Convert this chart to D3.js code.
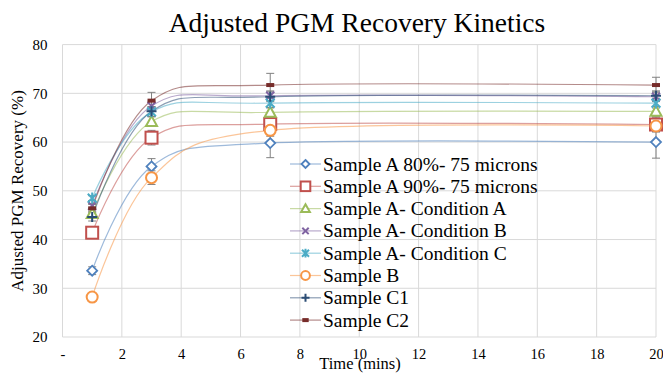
<!DOCTYPE html>
<html lang="en">
<head>
    <meta charset="utf-8">
    <script src='https://d3js.org/d3.v7.min.js'></script>
    <style>
        body { margin: 0; background: #fff; }
        svg text { font-family: "Liberation Serif", "DejaVu Serif", serif; fill: #000; }
    </style>
</head>
<body>
<script>
    var width = 663, height = 373;
    var serif = '"Liberation Serif", "DejaVu Serif", serif';

    // data
    var times = [1, 3, 7, 20];
    var seriesNames = ['Sample A 80%- 75 microns', 'Sample A 90%- 75 microns', 'Sample A- Condition A',
        'Sample A- Condition B', 'Sample A- Condition C', 'Sample B', 'Sample C1', 'Sample C2'];
    var sampleA80 = [33.6, 55.0, 59.8, 60.0];
    var sampleA90 = [41.4, 60.9, 63.7, 63.6];
    var conditionA = [45.3, 64.2, 66.1, 66.3];
    var conditionB = [46.9, 67.4, 69.5, 69.3];
    var conditionC = [48.5, 66.2, 68.0, 68.0];
    var sampleB = [28.2, 52.7, 62.4, 63.3];
    var sampleC1 = [44.6, 66.3, 69.3, 69.5];
    var sampleC2 = [46.4, 68.5, 71.7, 71.7];
    var errors = [
        [0.8, 1.6, 3.0, 3.3],
        [0.8, 1.5, 1.5, 1.5],
        [0.5, 1.0, 1.0, 1.0],
        [0.5, 1.0, 1.0, 1.0],
        [0.5, 1.0, 1.0, 1.0],
        [0.6, 1.4, 1.2, 1.2],
        [0.8, 1.0, 1.0, 1.0],
        [0.8, 1.7, 2.4, 1.6]
    ];
    var xTicks = [0, 2, 4, 6, 8, 10, 12, 14, 16, 18, 20];
    var yTicks = [20, 30, 40, 50, 60, 70, 80];

    var colors = ['#4f81bd', '#c0504d', '#9bbb59', '#8064a2', '#4bacc6', '#f79646', '#2c4d75', '#772c2a'];
    var markers = ['diamond', 'square', 'triangle', 'x', 'asterisk', 'circle', 'plus', 'dash'];
    var values = [sampleA80, sampleA90, conditionA, conditionB, conditionC, sampleB, sampleC1, sampleC2];

    var series = seriesNames.map(function(name, i) {
        return {
            name: name, color: colors[i], marker: markers[i],
            points: times.map(function(t, j) { return {x: t, y: values[i][j], e: errors[i][j]}; })
        };
    });

    var svg = d3.select('body').append('svg').attr('width', width).attr('height', height);

    var x = d3.scaleLinear().domain([0, 20]).range([62.5, 656]);
    var y = d3.scaleLinear().domain([20, 80]).range([337, 44.6]);

    // gridlines
    svg.append('g').selectAll('line').data(yTicks).join('line')
        .attr('x1', x(0)).attr('x2', x(20))
        .attr('y1', function(d) { return y(d); }).attr('y2', function(d) { return y(d); })
        .attr('stroke', '#d9d9d9').attr('stroke-width', 1);
    svg.append('g').selectAll('line').data(xTicks).join('line')
        .attr('y1', y(20)).attr('y2', y(80))
        .attr('x1', function(d) { return x(d); }).attr('x2', function(d) { return x(d); })
        .attr('stroke', '#d9d9d9').attr('stroke-width', 1);

    // axes labels
    var yAxis = d3.axisLeft(y).tickValues(yTicks).tickSize(0).tickPadding(15);
    var gy = svg.append('g').attr('transform', 'translate(' + x(0) + ',0)').call(yAxis);
    gy.select('.domain').remove();
    gy.selectAll('text').style('font-family', serif).style('font-size', '15px').attr('fill', '#000');

    var xAxis = d3.axisBottom(x).tickValues(xTicks).tickSize(0).tickPadding(12)
        .tickFormat(function(d) { return d === 0 ? '-' : d; });
    var gx = svg.append('g').attr('transform', 'translate(0,' + y(20) + ')').call(xAxis);
    gx.select('.domain').remove();
    gx.selectAll('text').style('font-family', serif).style('font-size', '14.5px').attr('fill', '#000');

    svg.append('text').attr('x', 357).attr('y', 32).attr('text-anchor', 'middle')
        .style('font-family', serif).style('font-size', '27.5px').text('Adjusted PGM Recovery Kinetics');
    svg.append('text').attr('x', 360).attr('y', 369).attr('text-anchor', 'middle')
        .style('font-family', serif).style('font-size', '16.5px').text('Time (mins)');
    svg.append('text').attr('transform', 'translate(23,191) rotate(-90)').attr('text-anchor', 'middle')
        .style('font-family', serif).style('font-size', '17px').text('Adjusted PGM Recovery (%)');

    // smoothed lines
    var line = d3.line()
        .x(function(d) { return x(d.x); })
        .y(function(d) { return y(d.y); })
        .curve(d3.curveCardinal.tension(0));

    svg.append('g').selectAll('path').data(series).join('path')
        .attr('d', function(d) { return line(d.points); })
        .attr('fill', 'none')
        .attr('stroke', function(d) { return d.color; })
        .attr('stroke-opacity', 0.55)
        .attr('stroke-width', 1.2);

    // error bars
    var eb = svg.append('g').attr('stroke', '#808080').attr('stroke-width', 1);
    series.forEach(function(s) {
        s.points.forEach(function(p) {
            var cx = x(p.x);
            eb.append('line').attr('x1', cx).attr('x2', cx).attr('y1', y(p.y - p.e)).attr('y2', y(p.y + p.e));
            eb.append('line').attr('x1', cx - 4).attr('x2', cx + 4).attr('y1', y(p.y - p.e)).attr('y2', y(p.y - p.e));
            eb.append('line').attr('x1', cx - 4).attr('x2', cx + 4).attr('y1', y(p.y + p.e)).attr('y2', y(p.y + p.e));
        });
    });

    function drawMarker(g, type, color, s) {
        // s = half size
        if (type === 'diamond') {
            g.append('path').attr('d', 'M0,' + (-s) + 'L' + s + ',0L0,' + s + 'L' + (-s) + ',0Z')
                .attr('fill', '#fff').attr('stroke', color).attr('stroke-width', 1.8);
        } else if (type === 'square') {
            g.append('rect').attr('x', -s).attr('y', -s).attr('width', 2 * s).attr('height', 2 * s)
                .attr('fill', '#fff').attr('stroke', color).attr('stroke-width', 2);
        } else if (type === 'triangle') {
            g.append('path').attr('d', 'M0,' + (-s) + 'L' + s + ',' + (s * 0.8) + 'L' + (-s) + ',' + (s * 0.8) + 'Z')
                .attr('fill', '#fff').attr('stroke', color).attr('stroke-width', 2);
        } else if (type === 'circle') {
            g.append('circle').attr('r', s).attr('fill', '#fff').attr('stroke', color).attr('stroke-width', 2);
        } else if (type === 'x' || type === 'asterisk') {
            var k = s * 0.8;
            g.append('path').attr('d', 'M' + (-k) + ',' + (-k) + 'L' + k + ',' + k + 'M' + (-k) + ',' + k + 'L' + k + ',' + (-k)
                + (type === 'asterisk' ? 'M0,' + (-s) + 'L0,' + s : ''))
                .attr('stroke', color).attr('stroke-width', 2).attr('fill', 'none');
        } else if (type === 'plus') {
            g.append('path').attr('d', 'M' + (-s) + ',0L' + s + ',0M0,' + (-s) + 'L0,' + s)
                .attr('stroke', color).attr('stroke-width', 2).attr('fill', 'none');
        } else if (type === 'dash') {
            g.append('rect').attr('x', -s * 0.8).attr('y', -2).attr('width', s * 1.6).attr('height', 4).attr('fill', color);
        }
    }

    var sizes = {diamond: 5, square: 6, triangle: 5.5, circle: 5.5, x: 5, asterisk: 5.5, plus: 5, dash: 5};

    series.forEach(function(s) {
        s.points.forEach(function(p) {
            var g = svg.append('g').attr('transform', 'translate(' + x(p.x) + ',' + y(p.y) + ')');
            drawMarker(g, s.marker, s.color, sizes[s.marker]);
        });
    });

    // legend
    var legend = svg.append('g');
    series.forEach(function(s, i) {
        var cy = 164 + i * 22.3;
        legend.append('line').attr('x1', 290).attr('x2', 321).attr('y1', cy).attr('y2', cy)
            .attr('stroke', s.color).attr('stroke-opacity', 0.55).attr('stroke-width', 1.2);
        var g = legend.append('g').attr('transform', 'translate(305.5,' + cy + ')');
        drawMarker(g, s.marker, s.color, sizes[s.marker] * 0.8);
        legend.append('text').attr('x', 323).attr('y', cy + 6.5)
            .style('font-family', serif).style('font-size', '19.5px').text(s.name);
    });
</script>
</body>
</html>
